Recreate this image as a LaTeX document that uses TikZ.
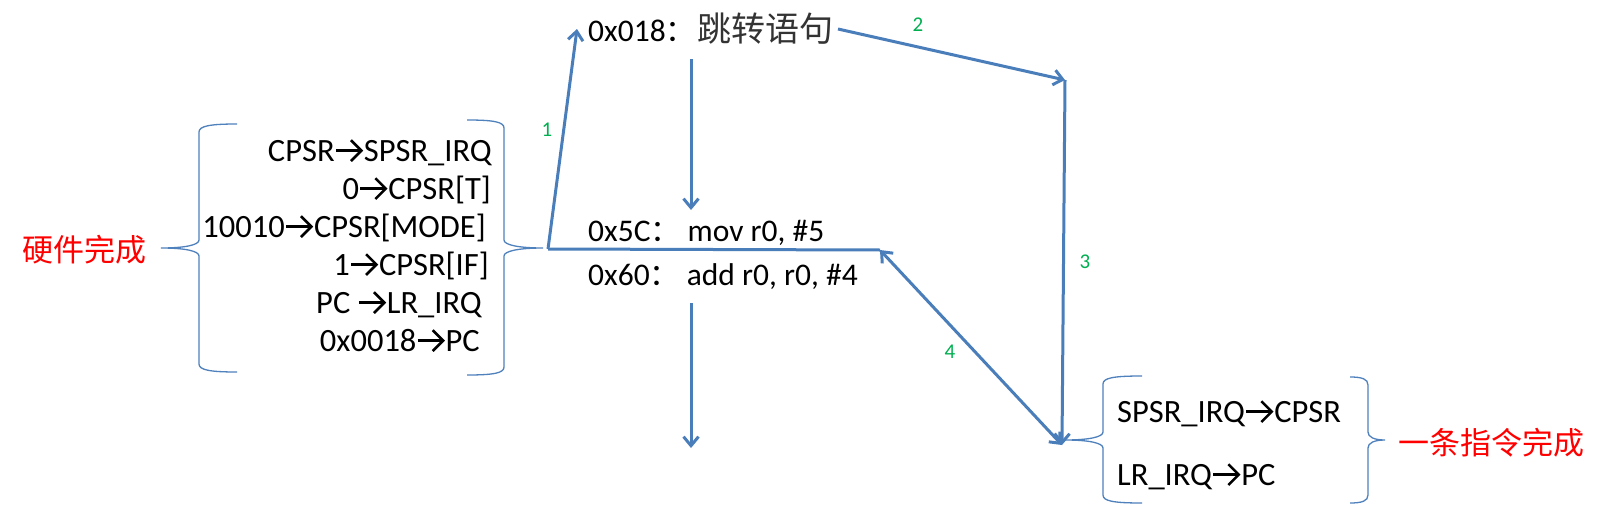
\documentclass[tikz,border=0pt]{standalone}
\usepackage{fontspec}
\setmainfont{Carlito}
\newfontfamily\cjk{Noto Sans CJK SC}
\usetikzlibrary{arrows.meta}
\definecolor{lineblue}{RGB}{74,126,187}
\definecolor{braceblue}{RGB}{79,129,189}
\definecolor{labgreen}{RGB}{0,176,80}
\newcommand{\rar}{\tikz[baseline=0pt]{\path (0em,0em) (0.9em,0.66em);
  \draw[line width=0.08em,line cap=butt] (0.04em,0.32em) -- (0.82em,0.32em);
  \draw[line width=0.08em,line join=miter] (0.5em,0.64em) -- (0.82em,0.32em) -- (0.5em,0em);}}
\newcommand{\fwcolon}{{\fontsize{30}{36}\cjk ：}}
\tikzset{
  txt/.style={font=\fontsize{32.5}{38}\selectfont, inner sep=0pt},
  code/.style={font=\fontsize{31.5}{38}\selectfont, inner sep=0pt},
  cnred/.style={font=\fontsize{31}{36}\cjk, text=red, inner sep=0pt},
  num/.style={font=\fontsize{21}{24}\selectfont, text=labgreen, inner sep=0pt},
  conn/.style={draw=lineblue, line width=3pt},
  arr/.style={conn, -{Straight Barb[length=9pt,width=15pt]}},
  darr/.style={conn, {Straight Barb[length=9pt,width=15pt]}-{Straight Barb[length=9pt,width=15pt]}},
  brc/.style={draw=braceblue, line width=1.3pt},
}
\begin{document}
\begin{tikzpicture}[x=1pt,y=-1pt]
\useasboundingbox (0,0) rectangle (1607,514);
\fill[white] (0,0) rectangle (1607,514);

% left group text
\node[cnred] (hw) at (84.5,250) {硬件完成};
\node[txt, anchor=base east] (h1) at (492,161) {CPSR\rar SPSR\_IRQ};
\node[txt, anchor=base east] (h2) at (491,199) {0\rar CPSR[T]};
\node[txt, anchor=base east] (h3) at (486,237) {10010\rar CPSR[MODE]};
\node[txt, anchor=base east] (h4) at (489,275) {1\rar CPSR[IF]};
\node[txt, anchor=base east] (h5) at (482,313) {PC \rar LR\_IRQ};
\node[txt, anchor=base east] (h6) at (480,351) {0x0018\rar PC};

% braces of left group
\draw[brc] (237,124) .. controls (210,124) and (199,126) .. (199,132) -- (199,240)
  .. controls (199,245) and (185,248) .. (161,248)
  .. controls (185,248) and (199,251) .. (199,256) -- (199,364)
  .. controls (199,370) and (210,372) .. (237,372);
\draw[brc] (467,120) .. controls (494,120) and (504,122) .. (504,128) -- (504,240)
  .. controls (504,245) and (519,248) .. (543,248)
  .. controls (519,248) and (504,251) .. (504,256) -- (504,367)
  .. controls (504,373) and (494,375) .. (467,375);

% code lines
\node[code, anchor=base west] (jmp) at (588,41) {0x018\fwcolon\hspace{2pt}{\fontsize{34}{38}\cjk\color{black!80}跳转语句}};
\node[code, anchor=base west] (mov) at (588,241) {0x5C\fwcolon{} mov r0, \#5};
\node[code, anchor=base west] (add) at (588,285) {0x60\fwcolon{} add r0, r0, \#4};

% right group
\node[txt, anchor=base west] (r1) at (1117,422) {SPSR\_IRQ\rar CPSR};
\node[txt, anchor=base west] (r2) at (1117,485) {LR\_IRQ\rar PC};
\node[cnred, anchor=west] (done) at (1398,443) {一条指令完成};

\draw[brc] (1142,376) .. controls (1113,376) and (1103,378) .. (1103,384) -- (1103,432)
  .. controls (1103,437) and (1089,440) .. (1065,440)
  .. controls (1089,440) and (1103,443) .. (1103,448) -- (1103,495)
  .. controls (1103,501) and (1113,503) .. (1142,503);
\draw[brc] (1350,377) .. controls (1362,377) and (1368,379) .. (1368,385) -- (1368,432)
  .. controls (1368,437) and (1374,440) .. (1385,440)
  .. controls (1374,440) and (1368,443) .. (1368,448) -- (1368,495)
  .. controls (1368,501) and (1362,503) .. (1350,503);

% coordinates
\coordinate (lineL) at (548,249);
\coordinate (lineR) at (880,250);
\coordinate (top1) at (577,29);
\coordinate (a2s) at (838,29);
\coordinate (corner) at (1065,80);
\coordinate (hub) at (1062,445);
\coordinate (d1s) at (691,59);
\coordinate (d1e) at (691,210);
\coordinate (d2s) at (691,303);
\coordinate (d2e) at (691,448);

% connectors
\draw[conn] (lineL) -- (lineR);
\draw[arr] (lineL) -- (top1);
\draw[arr] (d1s) -- (d1e);
\draw[arr] (a2s) -- (corner);
\draw[arr] (corner) -- (hub);
\draw[darr] (hub) -- (lineR);
\draw[arr] (d2s) -- (d2e);

% step labels
\node[num] (n1) at (547,130) {1};
\node[num] (n2) at (918,25) {2};
\node[num] (n3) at (1085,262) {3};
\node[num] (n4) at (950,352) {4};
\end{tikzpicture}
\end{document}
